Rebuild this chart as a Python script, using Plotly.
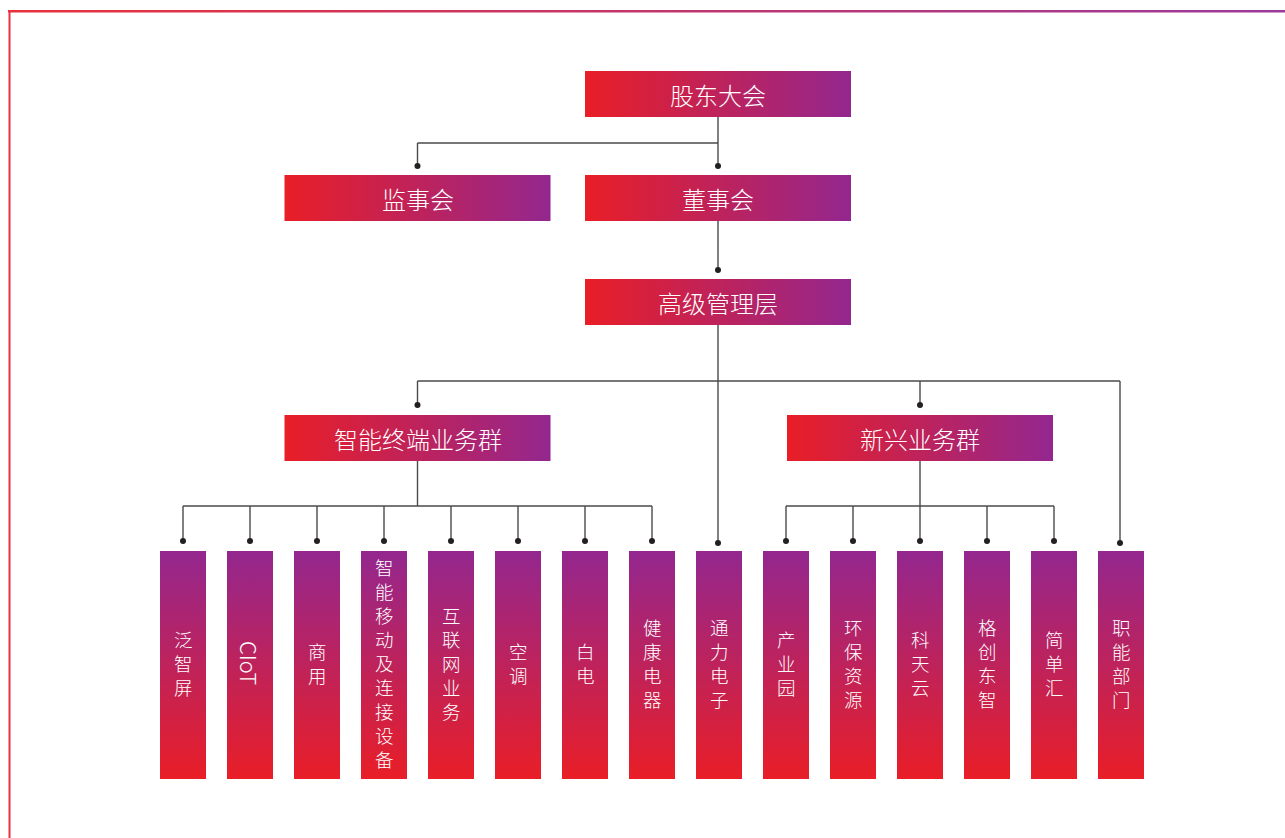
import plotly.graph_objects as go

# ---------------- data ----------------
top_names = ["股东大会", "监事会", "董事会", "高级管理层", "智能终端业务群", "新兴业务群"]
top_parent = [None, "股东大会", "股东大会", "董事会", "高级管理层", "高级管理层"]

leaf_names = ["泛智屏", "CIoT", "商用", "智能移动及连接设备", "互联网业务", "空调", "白电",
              "健康电器", "通力电子", "产业园", "环保资源", "科天云", "格创东智", "简单汇", "职能部门"]
leaf_parent = ["智能终端业务群"] * 8 + ["高级管理层"] + ["新兴业务群"] * 5 + ["高级管理层"]

# ---------------- layout constants (pixels) ----------------
W, H = 1285, 838
RED, PURPLE = "#E91E27", "#93278F"
LINE = "#4A4A4A"
DOT = "#231F20"
FONT = "Noto Sans CJK SC"

LEAF_X0, LEAF_STEP, LEAF_W = 183, 67, 46
LEAF_TOP, LEAF_BOT = 551, 779
BOX_W, BOX_H = 266, 46
row_top = {"股东大会": 71, "监事会": 175, "董事会": 175, "高级管理层": 279,
           "智能终端业务群": 415, "新兴业务群": 415}

leaf_x = {n: LEAF_X0 + LEAF_STEP * i for i, n in enumerate(leaf_names)}
spine_x = leaf_x["通力电子"] - 1
top_x = {}
for g in ["智能终端业务群", "新兴业务群"]:
    xs = [leaf_x[n] for n, p in zip(leaf_names, leaf_parent) if p == g]
    top_x[g] = sum(xs) / len(xs)
top_x["股东大会"] = spine_x
top_x["董事会"] = spine_x
top_x["高级管理层"] = spine_x
top_x["监事会"] = top_x["智能终端业务群"]

fig = go.Figure()

# ---------------- border ----------------
fig.add_trace(go.Scatter(
    x=[8, W + 2, W + 2, 8, 8], y=[10, 10, 12.5, 12.5, 10], mode="none", fill="toself",
    fillgradient=dict(type="horizontal", colorscale=[[0, "#E8323C"], [1, "#9B3A9B"]]),
    hoverinfo="skip"))
fig.add_shape(type="line", x0=9.5, x1=9.5, y0=11, y1=H + 2,
              line=dict(color="#E8323C", width=2))

# ---------------- connectors ----------------
lx, ly = [], []
dx, dy = [], []


def seg(x0, y0, x1, y1):
    lx.extend([x0, x1, None])
    ly.extend([y0, y1, None])


def dot(x, y):
    dx.append(x)
    dy.append(y)


# 股东大会 -> 监事会 / 董事会
b = 143
seg(spine_x, row_top["股东大会"] + BOX_H, spine_x, 166)
seg(top_x["监事会"], b, spine_x, b)
seg(top_x["监事会"], b, top_x["监事会"], 166)
dot(top_x["监事会"], 166)
dot(spine_x, 166)
# 董事会 -> 高级管理层
seg(spine_x, row_top["董事会"] + BOX_H, spine_x, 270)
dot(spine_x, 270)
# 高级管理层 -> groups, 通力电子, 职能部门
b = 381
right_x = leaf_x["职能部门"] - 1
seg(spine_x, row_top["高级管理层"] + BOX_H, spine_x, 543)
dot(spine_x, 543)
seg(top_x["智能终端业务群"], b, right_x, b)
for g in ["智能终端业务群", "新兴业务群"]:
    seg(top_x[g], b, top_x[g], 405)
    dot(top_x[g], 405)
seg(right_x, b, right_x, 543)
dot(right_x, 543)
# groups -> leaves
b = 506
for g in ["智能终端业务群", "新兴业务群"]:
    xs = [leaf_x[n] for n, p in zip(leaf_names, leaf_parent) if p == g]
    seg(top_x[g], row_top[g] + BOX_H, top_x[g], b)
    seg(min(xs), b, max(xs), b)
    for x in xs:
        seg(x, b, x, 541)
        dot(x, 541)

fig.add_trace(go.Scatter(x=lx, y=ly, mode="lines", line=dict(color=LINE, width=1.4),
                         hoverinfo="skip"))
fig.add_trace(go.Scatter(x=dx, y=dy, mode="markers", marker=dict(color=DOT, size=6),
                         hoverinfo="skip"))

# ---------------- boxes ----------------
annotations = []
for n in top_names:
    cx, t = top_x[n], row_top[n]
    x0, x1, y0, y1 = cx - BOX_W / 2, cx + BOX_W / 2, t, t + BOX_H
    fig.add_trace(go.Scatter(
        x=[x0, x1, x1, x0, x0], y=[y0, y0, y1, y1, y0], mode="none", fill="toself",
        fillgradient=dict(type="horizontal", colorscale=[[0, RED], [1, PURPLE]]),
        hoverinfo="skip"))
    annotations.append(dict(x=cx, y=t + BOX_H / 2, text=n, showarrow=False,
                            font=dict(family=FONT, size=24, color="white", weight=300),
                            xanchor="center", yanchor="middle"))

for n in leaf_names:
    cx = leaf_x[n]
    x0, x1 = cx - LEAF_W / 2, cx + LEAF_W / 2
    fig.add_trace(go.Scatter(
        x=[x0, x1, x1, x0, x0], y=[LEAF_TOP, LEAF_TOP, LEAF_BOT, LEAF_BOT, LEAF_TOP],
        mode="none", fill="toself",
        fillgradient=dict(type="vertical", colorscale=[[0, RED], [1, PURPLE]],
                          start=LEAF_BOT, stop=LEAF_TOP),
        hoverinfo="skip"))
    if n.isascii():
        annotations.append(dict(x=cx, y=(LEAF_TOP + LEAF_BOT) / 2 - 2, text=n, textangle=90,
                                showarrow=False,
                                font=dict(family=FONT, size=22, color="white", weight=300),
                                xanchor="center", yanchor="middle"))
    else:
        annotations.append(dict(x=cx, y=(LEAF_TOP + LEAF_BOT) / 2 - 2, text="<br>".join(n),
                                showarrow=False,
                                font=dict(family=FONT, size=18.5, color="white", weight=300),
                                xanchor="center", yanchor="middle"))

fig.update_layout(
    width=W, height=H, margin=dict(l=0, r=0, t=0, b=0),
    paper_bgcolor="white", plot_bgcolor="white", showlegend=False,
    hovermode=False, annotations=annotations,
    xaxis=dict(range=[0, W], visible=False, fixedrange=True),
    yaxis=dict(range=[H, 0], visible=False, fixedrange=True),
)
fig.write_html("out.html", config={"displayModeBar": False},
               post_script="document.body.style.margin='0';document.body.style.overflow='hidden';")
